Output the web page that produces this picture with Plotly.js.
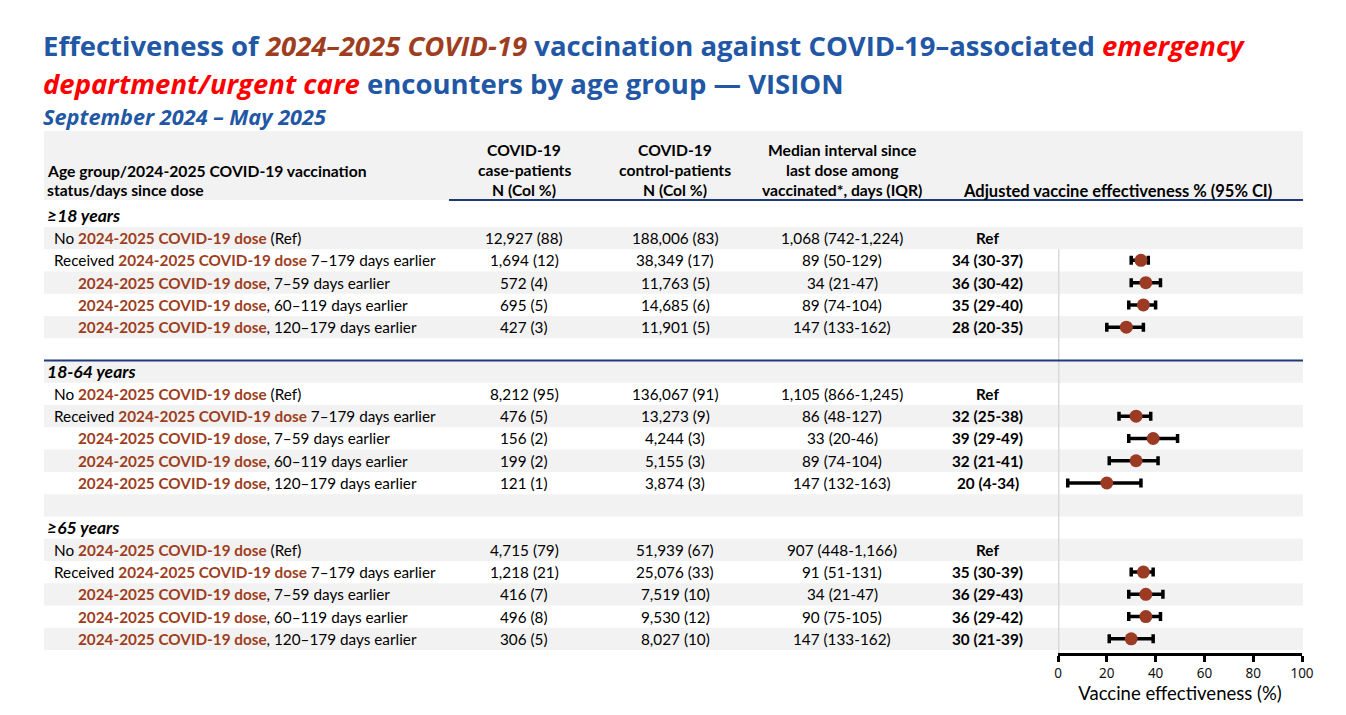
<!DOCTYPE html>
<html>
<head>
<meta charset="utf-8">
<script src="https://cdn.plot.ly/plotly-3.0.1.min.js"></script>
<style>html,body{margin:0;padding:0;background:#fff;}#chart{width:1346px;height:715px;}</style>
</head>
<body>
<div id="chart"></div>
<script>
// ---------- DATA ----------
var groups = ["≥18 years", "18-64 years", "≥65 years"];
var rowLabels = [
  ["No ", "2024-2025 COVID-19 dose", " (Ref)"],
  ["Received ", "2024-2025 COVID-19 dose", " 7–179 days earlier"],
  ["", "2024-2025 COVID-19 dose", ", 7–59 days earlier"],
  ["", "2024-2025 COVID-19 dose", ", 60–119 days earlier"],
  ["", "2024-2025 COVID-19 dose", ", 120–179 days earlier"]
];
var rowIndent = [1, 1, 2, 2, 2];
var cases = [
  ["12,927 (88)", "1,694 (12)", "572 (4)", "695 (5)", "427 (3)"],
  ["8,212 (95)", "476 (5)", "156 (2)", "199 (2)", "121 (1)"],
  ["4,715 (79)", "1,218 (21)", "416 (7)", "496 (8)", "306 (5)"]
];
var controls = [
  ["188,006 (83)", "38,349 (17)", "11,763 (5)", "14,685 (6)", "11,901 (5)"],
  ["136,067 (91)", "13,273 (9)", "4,244 (3)", "5,155 (3)", "3,874 (3)"],
  ["51,939 (67)", "25,076 (33)", "7,519 (10)", "9,530 (12)", "8,027 (10)"]
];
var medianInterval = [
  ["1,068 (742-1,224)", "89 (50-129)", "34 (21-47)", "89 (74-104)", "147 (133-162)"],
  ["1,105 (866-1,245)", "86 (48-127)", "33 (20-46)", "89 (74-104)", "147 (132-163)"],
  ["907 (448-1,166)", "91 (51-131)", "34 (21-47)", "90 (75-105)", "147 (133-162)"]
];
var veEst = [[null, 34, 36, 35, 28], [null, 32, 39, 32, 20], [null, 35, 36, 36, 30]];
var veLow = [[null, 30, 30, 29, 20], [null, 25, 29, 21, 4], [null, 30, 29, 29, 21]];
var veHigh = [[null, 37, 42, 40, 35], [null, 38, 49, 41, 34], [null, 39, 43, 42, 39]];
var xTicks = [0, 20, 40, 60, 80, 100];

// ---------- LAYOUT HELPERS ----------
var W = 1346, H = 715;
function px(x) { return x / W; }
function py(y) { return 1 - y / H; }
var BLUE = "#2157a4", BROWN = "#9e3d20", RED = "#ff0000", NAVY = "#1f3a78";
var BODY = "Lato, 'Open Sans', sans-serif";
var TITLE = "'Open Sans', Lato, sans-serif";
var nRows = 20;
var rowTopPx = 204.7, rowBottomPx = 650, axisPx = 653;
var rowH = (rowBottomPx - rowTopPx) / nRows;
var yBottom = nRows - 0.5 + (axisPx - rowBottomPx) / rowH;

var annotations = [];
var shapes = [];

// header band
shapes.push({type: "rect", xref: "paper", yref: "paper", x0: px(44), x1: px(1303), y0: py(200), y1: py(131),
  fillcolor: "#f2f2f2", line: {width: 0}, layer: "below"});
// stripes
for (var r = 0; r < nRows; r++) {
  if (r % 2 === 1) {
    shapes.push({type: "rect", xref: "paper", yref: "y", x0: px(44), x1: px(1303), y0: r - 0.5, y1: r + 0.5,
      fillcolor: "#f2f2f2", line: {width: 0}, layer: "below"});
  }
}
// blue rules
shapes.push({type: "line", xref: "paper", yref: "paper", x0: px(449), x1: px(1303), y0: py(200), y1: py(200),
  line: {color: NAVY, width: 2}});
shapes.push({type: "line", xref: "paper", yref: "y", x0: px(44), x1: px(1303), y0: 6.5, y1: 6.5,
  line: {color: NAVY, width: 2}});
// reference vertical line at 0
shapes.push({type: "line", xref: "x", yref: "y", x0: 0, x1: 0, y0: 1.5, y1: yBottom,
  line: {color: "#d9d9d9", width: 3}, layer: "below"});

function ann(text, x, y, opts) {
  var a = {text: text, x: x, y: y, xref: "paper", yref: "paper", showarrow: false,
    xanchor: "center", yanchor: "middle", font: {family: BODY, size: 15.3, color: "#000"}};
  for (var k in opts) a[k] = opts[k];
  annotations.push(a);
}

// title
ann('<b>Effectiveness of <i><span style="color:' + BROWN + '">2024–2025 COVID-19</span></i> vaccination against COVID-19–associated <i><span style="color:' + RED + '">emergency</span></i></b>',
  px(41), py(46), {xanchor: "left", font: {family: TITLE, size: 27.5, color: BLUE}});
ann('<b><i><span style="color:' + RED + '">department/urgent care</span></i> encounters by age group — VISION</b>',
  px(41), py(83), {xanchor: "left", font: {family: TITLE, size: 27.5, color: BLUE}});
ann('<b><i>September 2024 – May 2025</i></b>', px(41), py(117),
  {xanchor: "left", font: {family: TITLE, size: 21.7, color: BLUE}});

// column headers
var HF = {family: BODY, size: 15.7, color: "#000"};
ann("<b>Age group/2024-2025 COVID-19 vaccination</b>", px(45), py(171), {xanchor: "left", font: HF});
ann("<b>status/days since dose</b>", px(45), py(190), {xanchor: "left", font: HF});
var colCases = 524, colControls = 675, colMedian = 842, colVE = 988;
[["COVID-19", "case-patients", "N (Col %)", colCases],
 ["COVID-19", "control-patients", "N (Col %)", colControls],
 ["Median interval since", "last dose among", "vaccinated*, days (IQR)", colMedian]].forEach(function (h) {
  ann("<b>" + h[0] + "</b>", px(h[3]), py(150), {font: HF});
  ann("<b>" + h[1] + "</b>", px(h[3]), py(170), {font: HF});
  ann("<b>" + h[2] + "</b>", px(h[3]), py(190), {font: HF});
});
ann("<b>Adjusted vaccine effectiveness % (95% CI)</b>", px(1117), py(191), {font: {family: BODY, size: 16.5, color: "#000"}});

// table body
var fx = [], fy = [], fplus = [], fminus = [];
for (var g = 0; g < groups.length; g++) {
  var base = g * 7;
  ann("<b><i>" + groups[g] + "</i></b>", px(45), base, {xanchor: "left", yref: "y", font: {family: BODY, size: 17.5, color: "#000"}});
  for (var i = 0; i < 5; i++) {
    var row = base + 1 + i;
    var lab = rowLabels[i];
    var t = lab[0] + '<b><span style="color:' + BROWN + '">' + lab[1] + '</span></b>' + lab[2];
    ann(t, px(rowIndent[i] === 1 ? 52 : 76), row, {xanchor: "left", yref: "y"});
    ann(cases[g][i], px(colCases), row, {yref: "y"});
    ann(controls[g][i], px(colControls), row, {yref: "y"});
    ann(medianInterval[g][i], px(colMedian), row, {yref: "y"});
    var veText = veEst[g][i] === null ? "Ref" : veEst[g][i] + " (" + veLow[g][i] + "-" + veHigh[g][i] + ")";
    ann("<b>" + veText + "</b>", px(colVE), row, {yref: "y"});
    if (veEst[g][i] !== null) {
      fx.push(veEst[g][i]); fy.push(row);
      fplus.push(veHigh[g][i] - veEst[g][i]);
      fminus.push(veEst[g][i] - veLow[g][i]);
    }
  }
}

var trace = {
  type: "scatter", mode: "markers", x: fx, y: fy,
  marker: {color: "#9c3b24", size: 13},
  error_x: {type: "data", symmetric: false, array: fplus, arrayminus: fminus,
    color: "#000", thickness: 3.5, width: 4.5},
  hoverinfo: "x", showlegend: false, cliponaxis: false
};

var layout = {
  width: W, height: H, margin: {l: 0, r: 0, t: 0, b: 0},
  paper_bgcolor: "#fff", plot_bgcolor: "rgba(0,0,0,0)",
  showlegend: false,
  xaxis: {domain: [px(1058), px(1302)], range: [0, 100], tickvals: xTicks, ticktext: xTicks.map(String),
    showgrid: false, zeroline: false, showline: true, linecolor: "#000", linewidth: 3,
    ticks: "outside", ticklen: 6, tickwidth: 3, tickcolor: "#000",
    tickfont: {family: "'Noto Sans', sans-serif", size: 13.5, color: "#111"},
    title: {text: "Vaccine effectiveness (%)", standoff: 1, font: {family: BODY, size: 18.5, color: "#000"}},
    fixedrange: true},
  yaxis: {domain: [py(axisPx), py(rowTopPx)], range: [yBottom, -0.5], visible: false, fixedrange: true},
  shapes: shapes, annotations: annotations
};

Plotly.newPlot("chart", [trace], layout, {displayModeBar: false, staticPlot: true});
</script>
</body>
</html>
